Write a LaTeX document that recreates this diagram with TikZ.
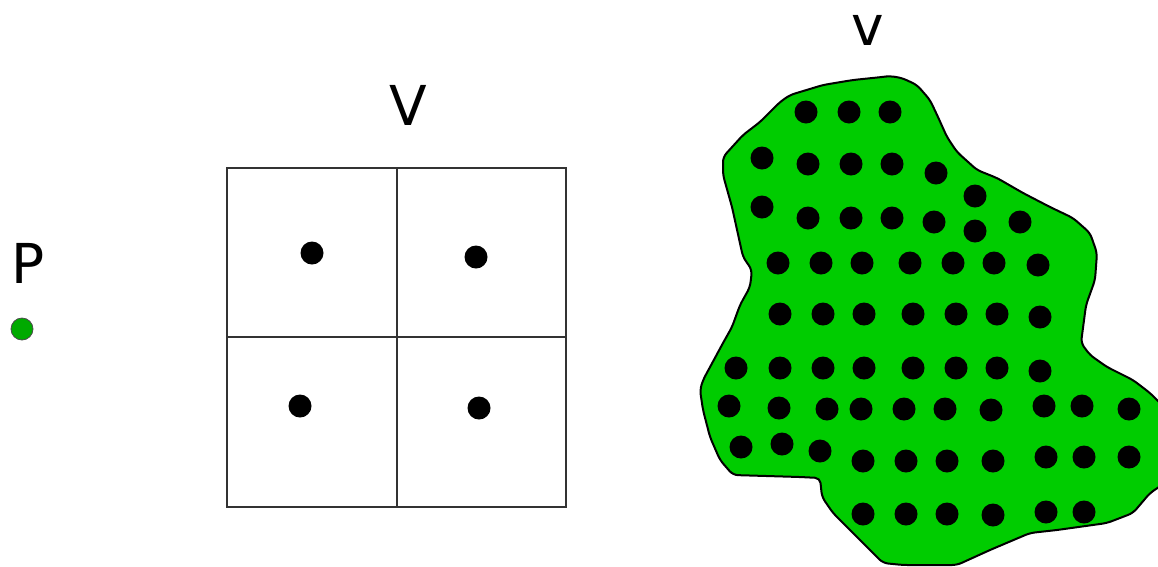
\documentclass[tikz,border=0pt]{standalone}
\usepackage{fontspec}
\setmainfont{DejaVu Sans}
\definecolor{blobgreen}{RGB}{0,204,0}
\definecolor{pgreen}{RGB}{0,170,0}
\begin{document}
\begin{tikzpicture}[x=1pt,y=-1pt,
  lbl/.style={font=\fontsize{55}{60}\selectfont, anchor=base, inner sep=0pt},
  dot/.style={circle, fill=black, minimum size=23pt, inner sep=0pt},
  cell/.style={draw=black!80, line width=1.3pt}]
\useasboundingbox (0,0) rectangle (1158,566);
% P
\node[lbl] (Plbl) at (28,283) {P};
\node[circle, draw=black!70, fill=pgreen, line width=0.8pt, minimum size=22pt, inner sep=0pt] (Pdot) at (22,329) {};
% V and grid
\node[lbl] (Vlbl) at (408,125) {V};
\draw[cell] (227,168) rectangle (566,507);
\draw[cell] (397,168) -- (397,507);
\draw[cell] (227,337) -- (566,337);
\node[dot] (g1) at (312,253) {};
\node[dot] (g2) at (476,257) {};
\node[dot] (g3) at (300,406) {};
\node[dot] (g4) at (479,408) {};
% v and blob
\node[lbl] (vlbl) at (868,45) {v};
\begin{scope}
\clip (0,0) rectangle (1158,566);
\draw[fill=blobgreen, line width=2pt, line join=round, rounded corners=5pt]
 (853,80) -- (882,77) -- (890,76) -- (902,78) -- (917,85) -- (930,100) -- (938,117) -- (947,137)
 -- (957,152) -- (977,170) -- (997,178) -- (1023,193) -- (1050,207) -- (1073,218) -- (1090,233)
 -- (1097,253) -- (1095,280) -- (1086,305) -- (1081,343) -- (1090,355) -- (1107,367) -- (1133,380)
 -- (1150,393) -- (1162,405) -- (1162,485) -- (1150,493) -- (1133,513) -- (1107,523) -- (1057,530)
 -- (1030,533) -- (990,550) -- (957,565) -- (903,565) -- (883,563) -- (867,547) -- (850,530)
 -- (833,513) -- (822,497) -- (820,478) -- (800,477) -- (733,475) -- (720,460) -- (710,437)
 -- (703,410) -- (700,390) -- (703,380) -- (723,343) -- (732,327) -- (740,305) -- (750,287)
 -- (752,270) -- (743,257) -- (732,207) -- (723,175) -- (723,157) -- (743,135) -- (760,122)
 -- (780,102) -- (790,95) -- (823,85) -- cycle;
\end{scope}
\foreach \x/\y [count=\i] in {
 806/112, 849/112, 890/112,
 762/158, 808/164, 851/164, 892/164, 936/173, 975/196,
 762/207, 808/218, 851/218, 892/218, 934/222, 975/231, 1020/222,
 778/263, 821/263, 862/263, 910/263, 953/263, 994/263, 1038/265,
 780/314, 823/314, 864/314, 913/314, 956/314, 997/314, 1040/317,
 736/368, 780/368, 823/368, 864/368, 913/368, 956/368, 997/368, 1040/371,
 729/406, 779/408, 827/409, 861/409, 904/409, 945/409, 991/410, 1044/406, 1082/406, 1129/409,
 741/447, 782/444, 820/451, 863/461, 906/461, 947/461, 993/461, 1046/457, 1084/457, 1129/457,
 863/514, 906/514, 947/514, 993/515, 1046/512, 1084/512}
 \node[dot] (b\i) at (\x,\y) {};
\end{tikzpicture}
\end{document}
